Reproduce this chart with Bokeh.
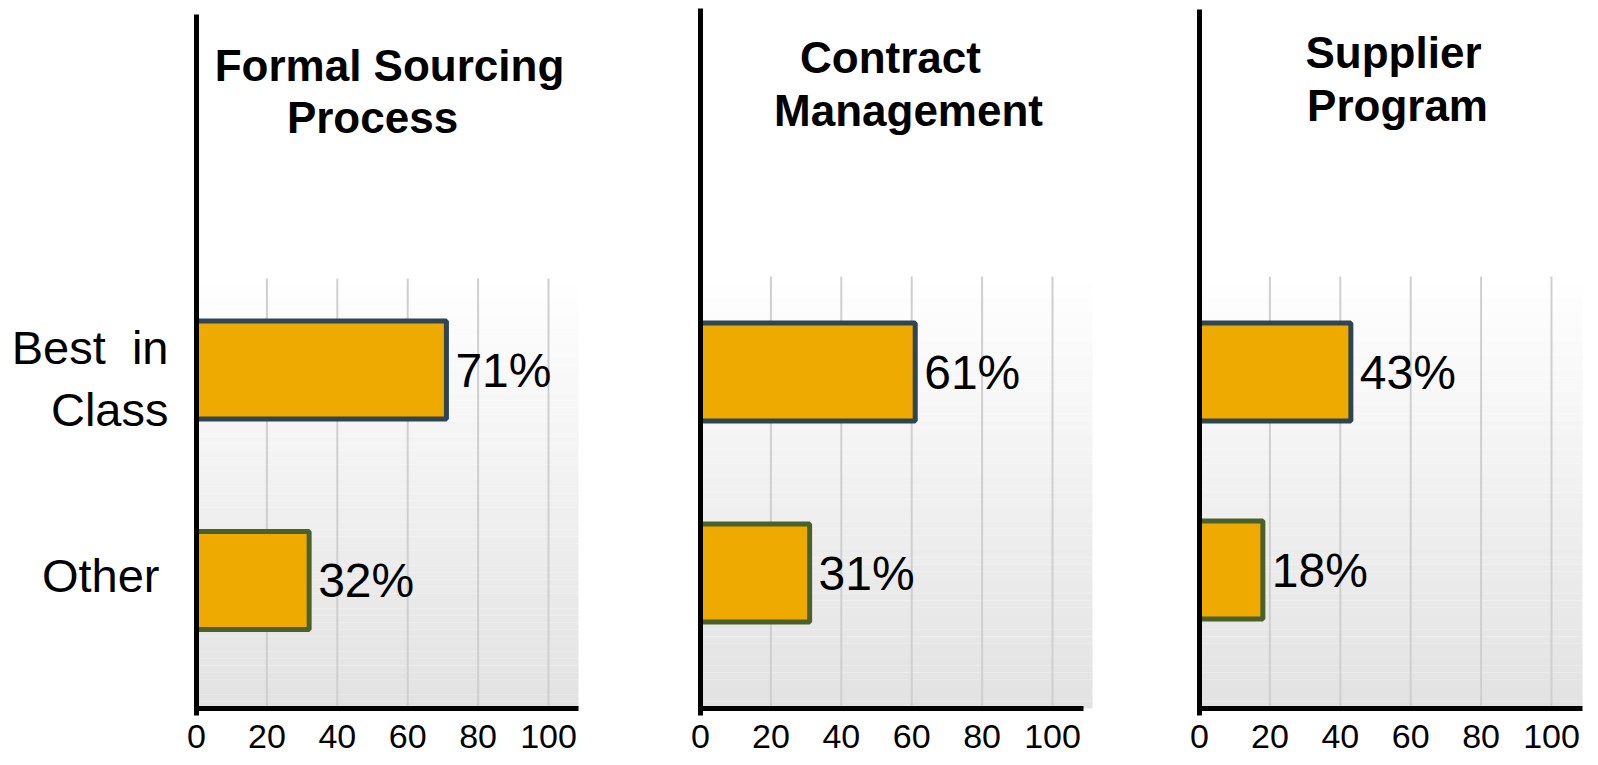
from bokeh.plotting import figure
from bokeh.layouts import row
from bokeh.models import FixedTicker, Range1d, Label, ColumnDataSource, LinearAxis
from bokeh.core.properties import value
from bokeh.embed import file_html
from bokeh.resources import INLINE

# ---------------- data ----------------
categories = ["Other", "Best\u00a0 in\nClass"]     # index 0 = Other, 1 = Best in Class
panel_titles = [["Formal Sourcing", "Process"],
                ["Contract", "Management"],
                ["Supplier", "Program"]]
best_values = [71, 61, 43]
other_values = [32, 31, 18]
tick_values = [0, 20, 40, 60, 80, 100]
tick_labels = ["0", "20", "40", "60", "80", "100"]

# ---------------- style / layout ----------------
FONT = "Liberation Sans"
H = 765
FRAME_H = 716
PXU = 3.52                     # px per x unit
BAR_FILL = "#EEAA00"
OUTLINES = ["#4A6129", "#2F4552"]   # Other, Best
GRID = "#cfcfcf"

panels = [
    dict(left=0, width=610, x0=196, axis_top=14, grid_top=278, xaxis_y=708,
         x_end=578, bg_right=578, best_c=369.5, other_c=580,
         title_pos=[(389, 65), (372, 117)]),
    dict(left=610, width=500, x0=700, axis_top=8, grid_top=276, xaxis_y=708,
         x_end=1083, bg_right=1092, best_c=371.5, other_c=572.5,
         title_pos=[(890, 57), (908, 110)]),
    dict(left=1110, width=488, x0=1199, axis_top=9, grid_top=276, xaxis_y=708,
         x_end=1582, bg_right=1582, best_c=371.5, other_c=569.5,
         title_pos=[(1393, 52), (1397, 105)]),
]

figs = []
for i, pn in enumerate(panels):
    pyu = pn["other_c"] - pn["best_c"]
    xd = lambda px, pn=pn: (px - pn["x0"]) / PXU
    yd = lambda py, pn=pn, pyu=pyu: (pn["other_c"] - py) / pyu

    p = figure(width=pn["width"], height=H, output_backend="svg", toolbar_location=None,
               x_range=Range1d(xd(pn["left"]), xd(pn["left"] + pn["width"])),
               y_range=Range1d(yd(FRAME_H), yd(0)),
               x_axis_location=None, y_axis_location=None,
               min_border_left=0, min_border_right=0, min_border_top=0,
               min_border_bottom=H - FRAME_H)
    p.outline_line_color = None
    p.grid.visible = False
    p.background_fill_color = "white"
    p.border_fill_color = "white"

    # gradient background
    n = 60
    y_lo, y_hi = yd(pn["xaxis_y"]), yd(pn["grid_top"])
    tops, bottoms, cols = [], [], []
    for k in range(n):
        t0 = k / n
        t1 = (k + 1) / n
        tops.append(y_hi - (y_hi - y_lo) * t0)
        bottoms.append(y_hi - (y_hi - y_lo) * t1)
        g = int(round(255 - (255 - 226) * (t0 + t1) / 2))
        cols.append("#%02x%02x%02x" % (g, g, g))
    p.quad(left=0, right=xd(pn["bg_right"]), top=tops, bottom=bottoms,
           fill_color=cols, line_color=None)

    # grid lines
    gx = tick_values[1:]
    p.segment(x0=gx, x1=gx, y0=[y_lo] * len(gx), y1=[y_hi] * len(gx),
              line_color=GRID, line_width=2)

    # bars
    vals = [other_values[i], best_values[i]]
    src = ColumnDataSource(dict(y=[0, 1], right=vals, line=OUTLINES,
                                lab=[f"{v}%" for v in vals]))
    p.hbar(y="y", left=0, right="right", height=98 / pyu, source=src,
           fill_color=BAR_FILL, line_color="line", line_width=5)
    p.text(x="right", y="y", text="lab", source=src, x_offset=9,
           text_font=value(FONT), text_font_size="48px",
           text_baseline="middle", text_align="left", text_color="black")

    # axis lines
    p.segment(x0=[0], x1=[0], y0=[yd(pn["axis_top"])], y1=[yd(pn["xaxis_y"] + 7)],
              line_color="black", line_width=5)
    p.segment(x0=[0], x1=[xd(pn["x_end"])], y0=[y_lo], y1=[y_lo],
              line_color="black", line_width=5)

    # x axis (tick labels only)
    ax = LinearAxis(ticker=FixedTicker(ticks=tick_values),
                    major_label_overrides={t: l for t, l in zip(tick_values, tick_labels)},
                    axis_line_color=None, major_tick_line_color=None,
                    minor_tick_line_color=None, major_tick_out=0, major_tick_in=0,
                    major_label_standoff=8, major_label_text_font=FONT,
                    major_label_text_font_size="34px", major_label_text_color="black")
    p.add_layout(ax, "below")

    # titles
    for txt, (tx, ty) in zip(panel_titles[i], pn["title_pos"]):
        p.add_layout(Label(x=xd(tx), y=yd(ty), text=txt, text_align="center",
                           text_baseline="middle", text_font=FONT,
                           text_font_size="44px", text_font_style="bold",
                           text_color="black"))

    # category labels (first panel only)
    if i == 0:
        dy_px = [-5, 8.5]
        p.text(x=[xd(168)] * 2, y=[k - dy_px[k] / pyu for k in range(2)],
               text=categories, x_offset=[-9, 0],
               text_font=value(FONT), text_font_size="47px",
               text_align="right", text_baseline="middle", text_color="black",
               text_line_height=1.16)
    figs.append(p)

layout = row(*figs, spacing=0)
open("out.html", "w").write(file_html(layout, INLINE))
